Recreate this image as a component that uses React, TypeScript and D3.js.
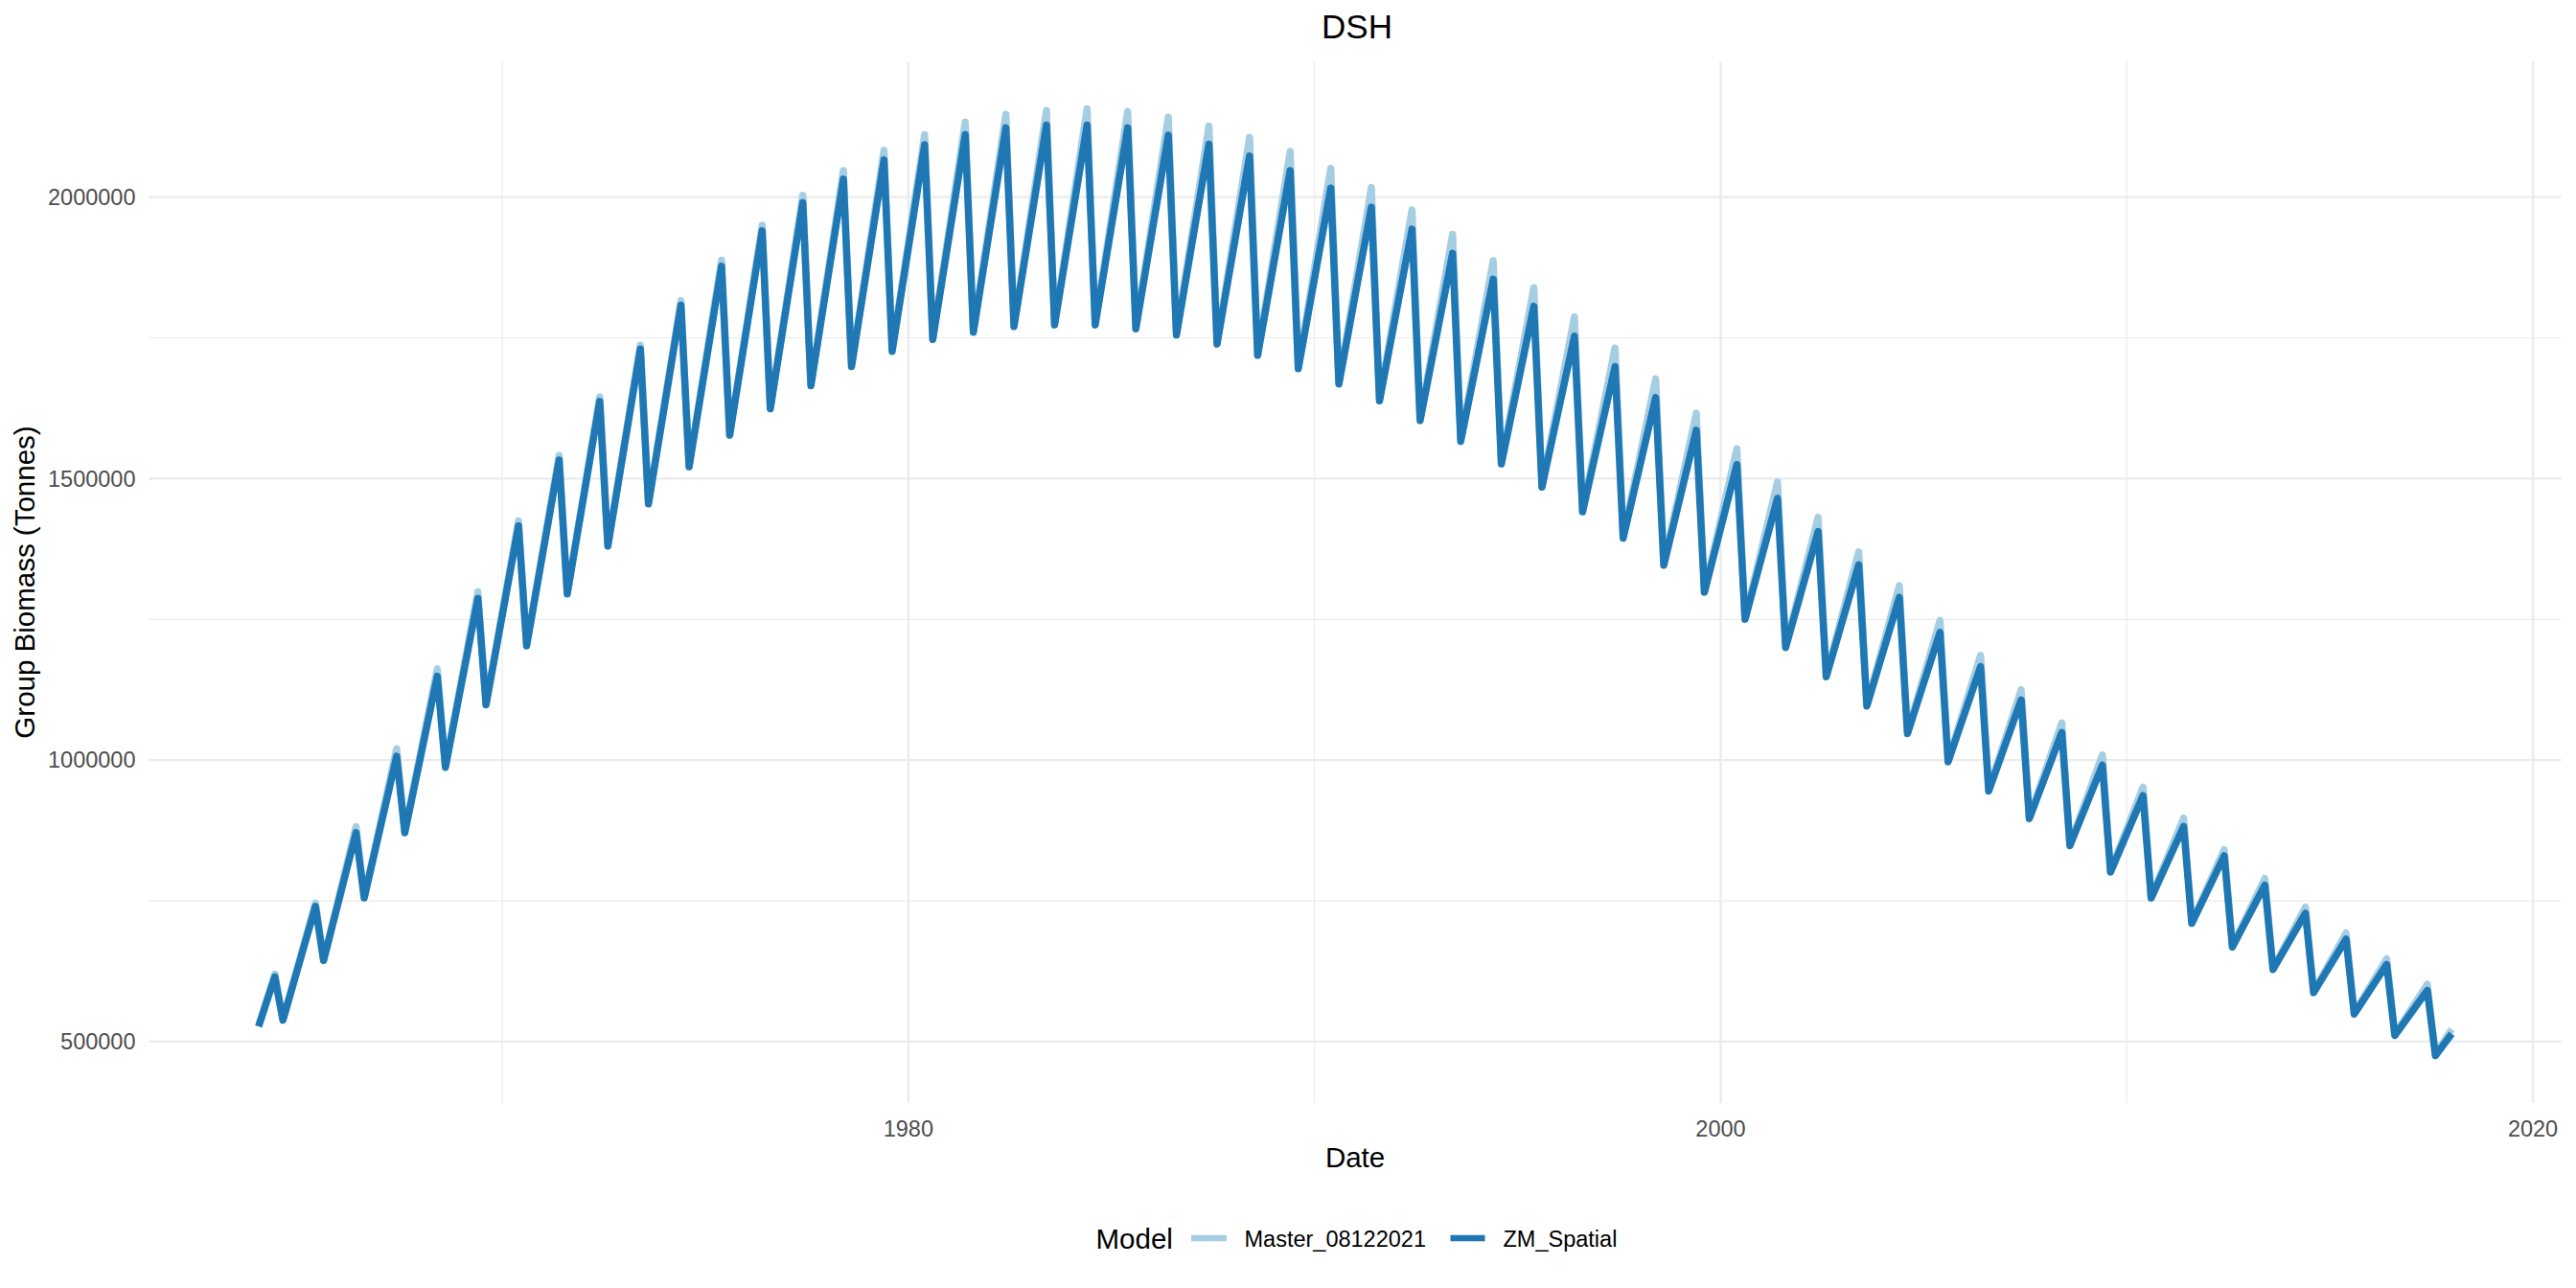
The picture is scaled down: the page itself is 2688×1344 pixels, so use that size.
import React from "react";
import * as d3 from "d3";

// ---- data (values in tonnes) ----
const years: number[] = d3.range(1964, 2018); // 1964..2017

const startValue = 527000;
const endZM = 514000;
const endMaster = 522000;

// yearly peak (≈ year + 0.4) and trough (≈ year + 0.6)
const zmPeaks: number[] = [
  615, 740, 871, 1007, 1149, 1287, 1416, 1533, 1637, 1730,
  1808, 1877, 1940, 1990, 2032, 2066, 2093, 2111, 2123, 2128,
  2128, 2123, 2110, 2094, 2073, 2047, 2016, 1982, 1943, 1900,
  1854, 1806, 1753, 1699, 1644, 1586, 1525, 1465, 1406, 1347,
  1289, 1227, 1166, 1107, 1049, 991, 937, 882, 830, 778,
  728, 682, 637, 591,
];
const masterPeaks: number[] = [
  620, 746, 882, 1020, 1162, 1299, 1425, 1541, 1645, 1737,
  1816, 1888, 1950, 2003, 2047, 2083, 2111, 2133, 2147, 2154,
  2157, 2152, 2142, 2126, 2106, 2081, 2051, 2017, 1977, 1934,
  1887, 1839, 1787, 1732, 1677, 1616, 1553, 1494, 1431, 1370,
  1310, 1248, 1186, 1125, 1066, 1009, 952, 897, 841, 790,
  739, 693, 647, 602,
];
const zmTroughs: number[] = [
  538, 644, 755, 871, 987, 1098, 1203, 1295, 1380, 1455,
  1521, 1577, 1624, 1665, 1699, 1726, 1747, 1760, 1770, 1773,
  1773, 1766, 1755, 1739, 1719, 1695, 1668, 1638, 1603, 1566,
  1526, 1485, 1441, 1394, 1346, 1298, 1250, 1200, 1148, 1096,
  1047, 997, 945, 896, 848, 801, 755, 710, 668, 628,
  587, 549, 511, 475,
];
const masterTroughs: number[] = [
  539, 645, 757, 873, 989, 1100, 1205, 1297, 1382, 1457,
  1523, 1579, 1626, 1667, 1701, 1728, 1749, 1762, 1772, 1775,
  1775, 1768, 1757, 1741, 1721, 1697, 1670, 1640, 1605, 1568,
  1528, 1487, 1443, 1396, 1348, 1300, 1252, 1202, 1150, 1098,
  1049, 999, 947, 898, 850, 803, 757, 712, 670, 630,
  589, 551, 513, 477,
];

const seriesNames: string[] = ["Master_08122021", "ZM_Spatial"];
const seriesColors: string[] = ["#A6CEE3", "#1F78B4"];
const yTicks: number[] = [500000, 1000000, 1500000, 2000000];
const yMinor: number[] = [750000, 1250000, 1750000];
const xTicks: number[] = [1980, 2000, 2020];
const xMinor: number[] = [1970, 1990, 2010];

type Pt = { t: number; v: number };

function buildSeries(peaks: number[], troughs: number[], endV: number): Pt[] {
  const pts: Pt[] = [{ t: 1964.0, v: startValue }];
  years.forEach((y, i) => {
    pts.push({ t: y + 0.4, v: peaks[i] * 1000 });
    pts.push({ t: y + 0.6, v: troughs[i] * 1000 });
  });
  pts.push({ t: 2018.0, v: endV });
  return pts;
}

const masterSeries = buildSeries(masterPeaks, masterTroughs, endMaster);
const zmSeries = buildSeries(zmPeaks, zmTroughs, endZM);

export default function App() {
  const W = 2688;
  const H = 1344;
  const panel = { left: 155.4, right: 2672.7, top: 64, bottom: 1151 };

  const allPts = [...masterSeries, ...zmSeries];
  const [tMin, tMax] = d3.extent(allPts, (d) => d.t) as [number, number];
  const [vMin, vMax] = d3.extent(allPts, (d) => d.v) as [number, number];
  const tPad = (tMax - tMin) * 0.05;
  const vPad = (vMax - vMin) * 0.05;

  const x = d3
    .scaleLinear()
    .domain([tMin - tPad, tMax + tPad])
    .range([panel.left, panel.right]);
  const y = d3
    .scaleLinear()
    .domain([vMin - vPad, vMax + vPad])
    .range([panel.bottom, panel.top]);

  const line = d3
    .line<Pt>()
    .x((d) => x(d.t))
    .y((d) => y(d.v));

  const font = "'Liberation Sans', Arial, Helvetica, sans-serif";
  const gridColor = "#EBEBEB";
  const cx = (panel.left + panel.right) / 2;
  const cy = (panel.top + panel.bottom) / 2;

  return (
    <svg
      width={W}
      height={H}
      style={{ position: "absolute", left: 0, top: 0, background: "#fff" }}
      fontFamily={font}
    >
      <rect x={0} y={0} width={W} height={H} fill="#fff" />
      {/* minor grid */}
      {yMinor.map((v) => (
        <line key={"ym" + v} x1={panel.left} x2={panel.right} y1={y(v)} y2={y(v)} stroke={gridColor} strokeWidth={1.2} />
      ))}
      {xMinor.map((t) => (
        <line key={"xm" + t} x1={x(t)} x2={x(t)} y1={panel.top} y2={panel.bottom} stroke={gridColor} strokeWidth={1.2} />
      ))}
      {/* major grid */}
      {yTicks.map((v) => (
        <line key={"y" + v} x1={panel.left} x2={panel.right} y1={y(v)} y2={y(v)} stroke={gridColor} strokeWidth={2.4} />
      ))}
      {xTicks.map((t) => (
        <line key={"x" + t} x1={x(t)} x2={x(t)} y1={panel.top} y2={panel.bottom} stroke={gridColor} strokeWidth={2.4} />
      ))}

      {/* lines */}
      <path d={line(masterSeries) || ""} fill="none" stroke={seriesColors[0]} strokeWidth={7.5} strokeLinejoin="round" strokeLinecap="butt" />
      <path d={line(zmSeries) || ""} fill="none" stroke={seriesColors[1]} strokeWidth={7.5} strokeLinejoin="round" strokeLinecap="butt" />

      {/* y tick labels */}
      {yTicks.map((v) => (
        <text key={"yl" + v} x={141.5} y={y(v)} dy="0.35em" textAnchor="end" fontSize={23.5} fill="#4D4D4D">
          {String(v)}
        </text>
      ))}
      {/* x tick labels */}
      {xTicks.map((t) => (
        <text key={"xl" + t} x={x(t)} y={1186} textAnchor="middle" fontSize={23.5} fill="#4D4D4D">
          {String(t)}
        </text>
      ))}

      {/* axis titles */}
      <text x={cx} y={1217.5} textAnchor="middle" fontSize={29.5} fill="#000">
        Date
      </text>
      <text
        transform={`translate(36,${cy}) rotate(-90)`}
        textAnchor="middle"
        fontSize={29.5}
        fill="#000"
      >
        Group Biomass (Tonnes)
      </text>

      {/* title */}
      <text x={cx + 2} y={39.5} textAnchor="middle" fontSize={35} fill="#000">
        DSH
      </text>

      {/* legend */}
      <text x={1143.5} y={1302.5} fontSize={29.5} fill="#000">
        Model
      </text>
      <line x1={1243} x2={1280} y1={1292} y2={1292} stroke={seriesColors[0]} strokeWidth={6.5} />
      <text x={1298.5} y={1300.5} fontSize={23.5} fill="#000">
        {seriesNames[0]}
      </text>
      <line x1={1513.5} x2={1549.5} y1={1292} y2={1292} stroke={seriesColors[1]} strokeWidth={6.5} />
      <text x={1568.5} y={1300.5} fontSize={23.5} fill="#000">
        {seriesNames[1]}
      </text>
    </svg>
  );
}
